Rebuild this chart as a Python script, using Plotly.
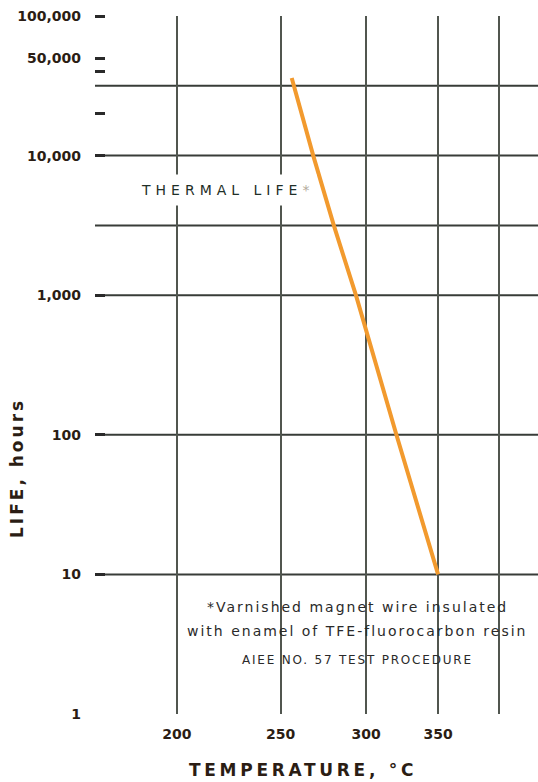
import numpy as np
import plotly.graph_objects as go

# Thermal life of TFE-fluorocarbon enamelled magnet wire (Arrhenius-style plot)
temp_c = [256, 268, 280, 293.5, 320, 350]
life_h = [36000, 10000, 3162, 1000, 100, 10]

temp_ticks = [200, 250, 300, 350, 400]
temp_tick_text = ["200", "250", "300", "350", ""]
temp_range = [166.8, 436.0]

life_ticks = [1, 10, 100, 1000, 10000, 50000, 100000]
life_tick_text = ["1", "10", "100", "1,000", "10,000", "50,000", "100,000"]
life_minor_ticks = [10, 100, 1000, 10000, 20000, 40000, 50000, 100000]
life_grid = [10, 100, 1000, 3162, 10000, 31623]


def recip(t):
    """Reciprocal absolute temperature scale (x grows with temperature)."""
    return -1000.0 / (np.asarray(t, dtype=float) + 273.15)


BOLD = dict(family="DejaVu Sans", size=14, color="#2b1d14", weight="bold")

fig = go.Figure()
fig.add_trace(go.Scatter(
    x=recip(temp_c), y=life_h, mode="lines",
    line=dict(color="#f29a2e", width=4), hoverinfo="skip", showlegend=False,
))

shapes = [
    dict(type="line", xref="paper", x0=0, x1=1, yref="y", y0=v, y1=v,
         line=dict(color="#383c38", width=2), layer="below")
    for v in life_grid
]
# white panel behind the footnote
shapes.append(dict(type="rect", xref="paper", yref="paper",
                   x0=0.205, x1=0.98, y0=(714 - 672) / 698, y1=(714 - 597) / 698,
                   fillcolor="white", line=dict(width=0), layer="between"))


def spaced(text, px):
    return f'<span style="letter-spacing:{px}px">{text}</span>'


def py(pixel_y):
    return (714 - pixel_y) / 698


def px(pixel_x):
    return (pixel_x - 95) / 443


CENTER = dict(xanchor="center", yanchor="middle", showarrow=False,
              xref="paper", yref="paper")

annotations = [
    dict(text=spaced("LIFE, hours", 3), x=px(17), y=py(468), textangle=-90,
         font=dict(family="DejaVu Sans", size=17, color="#2b1d14", weight="bold"),
         **CENTER),
    dict(text=spaced("TEMPERATURE, °C", 3.7), x=px(303), y=py(770),
         font=dict(family="DejaVu Sans", size=17, color="#2b1d14", weight="bold"),
         **CENTER),
    dict(text=spaced("THERMAL LIFE", 5) + '<span style="color:#b3aa9c">*</span>',
         x=px(133), y=py(190), xanchor="left", yanchor="middle", showarrow=False,
         xref="paper", yref="paper", bgcolor="white", borderpad=7,
         font=dict(family="DejaVu Sans", size=14, color="#1f2f28")),
    dict(text=spaced("*Varnished magnet wire insulated", 2), x=px(357), y=py(607),
         font=dict(family="DejaVu Sans", size=14, color="#2a2a2a"), **CENTER),
    dict(text=spaced("with enamel of TFE-fluorocarbon resin", 2), x=px(357), y=py(631),
         font=dict(family="DejaVu Sans", size=14, color="#2a2a2a"), **CENTER),
    dict(text=spaced("AIEE NO. 57 TEST PROCEDURE", 1.8), x=px(357), y=py(660),
         font=dict(family="DejaVu Sans", size=12, color="#2a2a2a"), **CENTER),
]

fig.update_layout(
    width=538, height=782,
    margin=dict(l=95, r=0, t=16, b=68),
    paper_bgcolor="white", plot_bgcolor="white",
    shapes=shapes, annotations=annotations,
    xaxis=dict(
        range=list(recip(temp_range)), tickmode="array",
        tickvals=list(recip(temp_ticks)), ticktext=temp_tick_text,
        showgrid=True, gridcolor="#51564f", gridwidth=1.5,
        zeroline=False, showline=False, ticks="",
        tickfont=BOLD, ticklabelstandoff=10, fixedrange=True,
    ),
    yaxis=dict(
        type="log", range=[0, 5], tickmode="array",
        tickvals=life_ticks, ticktext=life_tick_text,
        showgrid=False, zeroline=False, showline=False, ticks="",
        minor=dict(ticks="inside", tickmode="array", tickvals=life_minor_ticks,
                   ticklen=10, tickwidth=3, tickcolor="#2a2a2a", showgrid=False),
        tickfont=BOLD, ticklabelstandoff=13, fixedrange=True,
    ),
)

fig.write_html("out.html")
